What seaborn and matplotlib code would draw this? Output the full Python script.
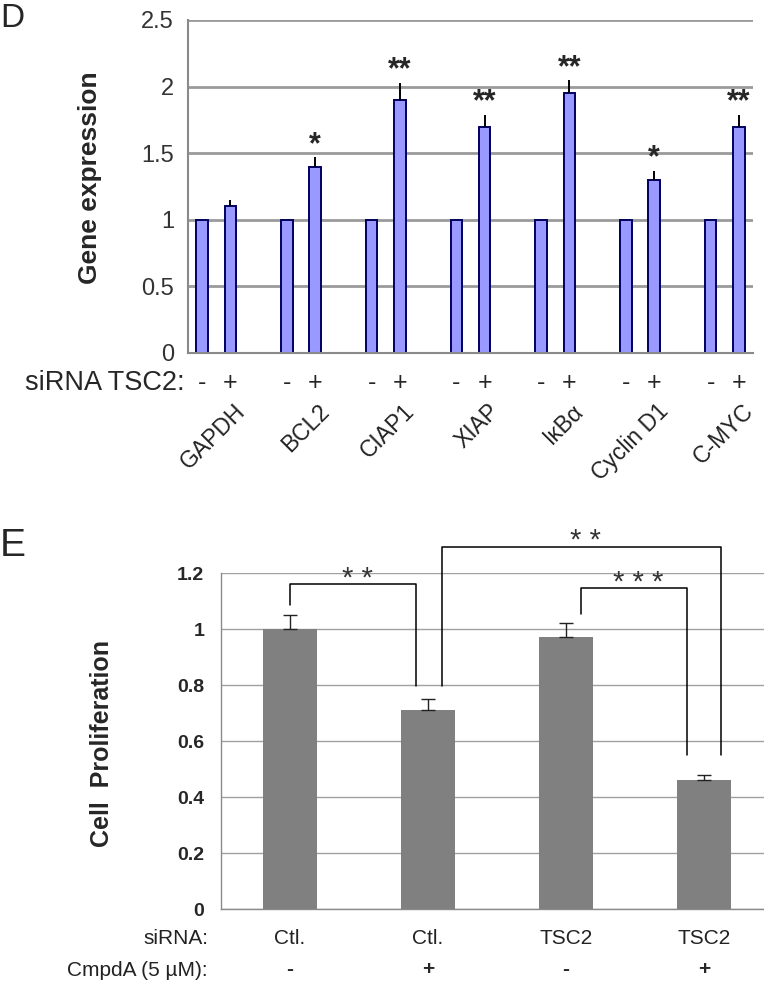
import matplotlib
matplotlib.use("Agg")
import matplotlib.pyplot as plt
import matplotlib.transforms as mtransforms
import numpy as np
import pandas as pd
import seaborn as sns

# panel D: gene expression, siRNA TSC2 - / +
genes = ["GAPDH", "BCL2", "CIAP1", "XIAP", "IκBα", "Cyclin D1", "C-MYC"]
expr_ctl = [1.0, 1.0, 1.0, 1.0, 1.0, 1.0, 1.0]
expr_tsc2 = [1.1, 1.4, 1.9, 1.7, 1.95, 1.3, 1.7]
err_tsc2 = [0.05, 0.07, 0.13, 0.09, 0.10, 0.07, 0.09]
stars_d = ["", "*", "**", "**", "**", "*", "**"]

# panel E: cell proliferation
sirna = ["Ctl.", "Ctl.", "TSC2", "TSC2"]
cmpd = ["-", "+", "-", "+"]
prolif = [1.0, 0.71, 0.97, 0.46]
prolif_err = [0.05, 0.04, 0.05, 0.02]
# (left bar, right bar, label)
comparisons = [(0, 1, "* *"), (1, 3, "* *"), (2, 3, "* * *")]

sns.set_style("white")
plt.rcParams["font.family"] = ["Liberation Sans", "DejaVu Sans"]

W, H = 764, 981
fig = plt.figure(figsize=(W / 100, H / 100), dpi=100)

def box(l, t, r, b):
    return [l / W, 1 - b / H, (r - l) / W, (b - t) / H]

# ---------------- panel D ----------------
ax = fig.add_axes(box(188, 20, 753, 353))
pos_ctl = [3 * i for i in range(len(genes))]
pos_tsc = [3 * i + 1 for i in range(len(genes))]
df = pd.DataFrame({"pos": pos_ctl + pos_tsc, "value": expr_ctl + expr_tsc2})
sns.barplot(data=df, x="pos", y="value", native_scale=True, width=0.4,
            color="#9999ff", edgecolor="#00005e", linewidth=1.4,
            errorbar=None, saturation=1, ax=ax)
ax.errorbar(pos_tsc, expr_tsc2, yerr=[np.zeros(len(genes)), err_tsc2],
            fmt="none", ecolor="black", elinewidth=1.4, capsize=0)
ax.set_xlim(-0.5, 19.5)
ax.set_ylim(0, 2.5)
ax.set_yticks(np.arange(0, 2.51, 0.5))
ax.set_yticklabels(["0", "0.5", "1", "1.5", "2", "2.5"])
ax.set_xticks(np.arange(-0.5, 20, 1))
ax.set_xticklabels([])
ax.set_axisbelow(True)
ax.yaxis.grid(True, color="#9a9a9a", linewidth=2)
for s in ["top", "right"]:
    ax.spines[s].set_visible(False)
for s in ["left", "bottom"]:
    ax.spines[s].set_color("#8a8a8a")
    ax.spines[s].set_linewidth(1.5)
ax.tick_params(axis="y", length=6, width=1.5, color="#9a9a9a", labelsize=17,
               labelcolor="#333333", pad=4)
ax.tick_params(axis="x", length=6, width=1.2, color="#8a8a8a", direction="out")
ax.set_xlabel("")
ax.set_ylabel("Gene expression", fontsize=19, fontweight="bold")
ax.yaxis.set_label_coords(-0.152, 0.526)

for p, v, e, st in zip(pos_tsc, expr_tsc2, err_tsc2, stars_d):
    if st:
        ax.text(p, v + e + 0.03, st, ha="center", va="baseline",
                fontsize=22, fontweight="bold")

trD = mtransforms.blended_transform_factory(ax.transData, ax.transAxes)
for p in pos_ctl:
    ax.text(p, -0.09, "-", transform=trD, ha="center", va="center", fontsize=18)
for p, g in zip(pos_tsc, genes):
    ax.text(p, -0.09, "+", transform=trD, ha="center", va="center", fontsize=18)
    ax.text(p + 0.1, -0.14, g, transform=trD, ha="right", va="top",
            rotation=45, rotation_mode="anchor", fontsize=16.5, color="#222222")
fig.text(185 / W, 1 - 383 / H, "siRNA TSC2:", ha="right", va="center", fontsize=19.5)
fig.text(0, 1 - 3 / H, "D", ha="left", va="top", fontsize=24)

# ---------------- panel E ----------------
bx = fig.add_axes(box(221, 573, 764, 909))
idx = list(range(len(prolif)))
dfe = pd.DataFrame({"cond": idx, "value": prolif})
sns.barplot(data=dfe, x="cond", y="value", native_scale=True, width=0.39,
            color="#808080", linewidth=0, errorbar=None, saturation=1, ax=bx)
bx.errorbar(idx, prolif, yerr=[np.zeros(len(prolif)), prolif_err], fmt="none",
            ecolor="#222222", elinewidth=1, capsize=5, capthick=1)
bx.set_xlim(-0.5, -0.5 + 543 / 138)
bx.set_ylim(0, 1.2)
bx.set_yticks(np.arange(0, 1.21, 0.2))
bx.set_yticklabels(["0", "0.2", "0.4", "0.6", "0.8", "1", "1.2"])
bx.set_xticks([])
bx.set_axisbelow(True)
bx.yaxis.grid(True, color="#a0a0a0", linewidth=1)
for s in ["top", "right"]:
    bx.spines[s].set_visible(False)
for s in ["left", "bottom"]:
    bx.spines[s].set_color("#8a8a8a")
    bx.spines[s].set_linewidth(1)
bx.tick_params(axis="y", length=7, width=1, color="#a0a0a0", labelsize=14, pad=5)
for t in bx.get_yticklabels():
    t.set_fontweight("bold")
bx.set_xlabel("")
bx.set_ylabel("Cell  Proliferation", fontsize=18, fontweight="bold")
bx.yaxis.set_label_coords(-0.197, 0.494)

# significance brackets
tops = [v + e for v, e in zip(prolif, prolif_err)]
levels = [1.16, 1.293, 1.146]
offsets = [(0.0, -0.087), (0.1, 0.12), (0.11, -0.12)]
for (i, j, lab), lev, (dl, dr) in zip(comparisons, levels, offsets):
    xl, xr = i + dl, j + dr
    yl = tops[i] + 0.035 if dl <= 0.05 or i == 2 else 0.796
    yr = 0.796 if j == 1 else 0.55
    bx.plot([xl, xl, xr, xr], [yl, lev, lev, yr], color="black", lw=1.1,
            clip_on=False)
    bx.text((xl + xr) / 2 + 0.03, lev - 0.03, lab, ha="center", va="bottom",
            fontsize=21, color="#333333", clip_on=False)

trE = mtransforms.blended_transform_factory(bx.transData, bx.transAxes)
for k in idx:
    bx.text(k, -0.089, sirna[k], transform=trE, ha="center", va="center",
            fontsize=15, color="#222222")
    bx.text(k, -0.18, cmpd[k], transform=trE, ha="center", va="center",
            fontsize=15, fontweight="bold")
fig.text(208 / W, 1 - 939 / H, "siRNA:", ha="right", va="center", fontsize=15,
         color="#222222")
fig.text(208 / W, 1 - 970 / H, "CmpdA (5 µM):", ha="right", va="center",
         fontsize=15, color="#222222")
fig.text(0, 1 - 528 / H, "E", ha="left", va="top", fontsize=28)

fig.savefig("out.png", dpi=100)
